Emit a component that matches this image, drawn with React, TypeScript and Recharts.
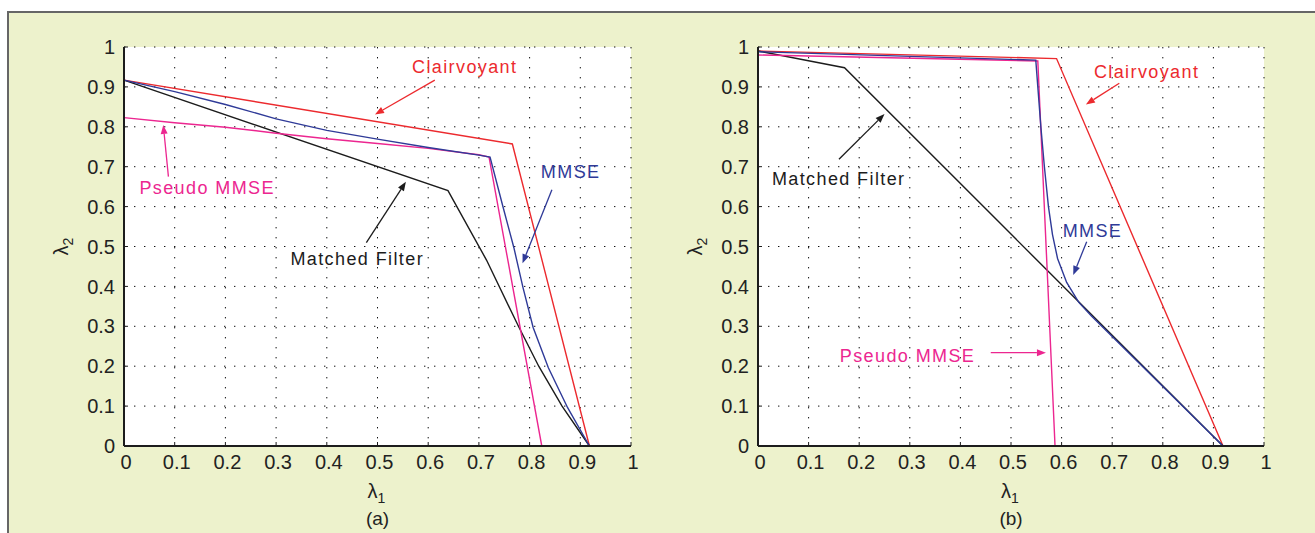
import { LineChart, Line, XAxis, YAxis, CartesianGrid, ReferenceLine, ReferenceDot } from 'recharts'

const TICKS = [0, 0.1, 0.2, 0.3, 0.4, 0.5, 0.6, 0.7, 0.8, 0.9, 1]

// panel (a)
const clairvoyantA = [
  { x: 0, y: 0.917 },
  { x: 0.766, y: 0.757 },
  { x: 0.918, y: 0 },
]
const mmseA = [
  { x: 0, y: 0.917 },
  { x: 0.1, y: 0.888 },
  { x: 0.2, y: 0.856 },
  { x: 0.3, y: 0.82 },
  { x: 0.4, y: 0.791 },
  { x: 0.5, y: 0.769 },
  { x: 0.6, y: 0.748 },
  { x: 0.7, y: 0.729 },
  { x: 0.722, y: 0.724 },
  { x: 0.748, y: 0.597 },
  { x: 0.769, y: 0.497 },
  { x: 0.787, y: 0.397 },
  { x: 0.807, y: 0.297 },
  { x: 0.837, y: 0.196 },
  { x: 0.875, y: 0.096 },
  { x: 0.918, y: 0 },
]
const pseudoA = [
  { x: 0, y: 0.823 },
  { x: 0.1, y: 0.81 },
  { x: 0.2, y: 0.799 },
  { x: 0.3, y: 0.784 },
  { x: 0.4, y: 0.77 },
  { x: 0.5, y: 0.758 },
  { x: 0.6, y: 0.746 },
  { x: 0.7, y: 0.73 },
  { x: 0.72, y: 0.724 },
  { x: 0.824, y: 0 },
]
const matchedA = [
  { x: 0, y: 0.917 },
  { x: 0.639, y: 0.64 },
  { x: 0.715, y: 0.466 },
  { x: 0.778, y: 0.3 },
  { x: 0.818, y: 0.2 },
  { x: 0.864, y: 0.1 },
  { x: 0.918, y: 0 },
]

// panel (b)
const clairvoyantB = [
  { x: 0, y: 0.99 },
  { x: 0.59, y: 0.971 },
  { x: 0.919, y: 0 },
]
const mmseB = [
  { x: 0, y: 0.988 },
  { x: 0.549, y: 0.967 },
  { x: 0.553, y: 0.9 },
  { x: 0.559, y: 0.8 },
  { x: 0.566, y: 0.7 },
  { x: 0.574, y: 0.6 },
  { x: 0.582, y: 0.53 },
  { x: 0.592, y: 0.47 },
  { x: 0.61, y: 0.41 },
  { x: 0.634, y: 0.36 },
  { x: 0.659, y: 0.326 },
  { x: 0.919, y: 0 },
]
const pseudoB = [
  { x: 0, y: 0.98 },
  { x: 0.553, y: 0.965 },
  { x: 0.587, y: 0 },
]
const matchedB = [
  { x: 0, y: 0.99 },
  { x: 0.171, y: 0.948 },
  { x: 0.919, y: 0 },
]

const RED = '#ec2a2e'
const BLUE = '#2f3a98'
const PINK = '#ec2690'
const BLACK = '#1c1c1c'
const FONT = '"Liberation Sans", Arial, Helvetica, sans-serif'

// text anchor (tx, ty) and arrow from -> to, in data units
const notesA = [
  { text: 'Clairvoyant', color: RED, tx: 0.672, ty: 0.934, from: [0.613, 0.917], to: [0.495, 0.831] },
  { text: 'Pseudo MMSE', color: PINK, tx: 0.164, ty: 0.632, from: [0.0876, 0.675], to: [0.0775, 0.8045] },
  { text: 'MMSE', color: BLUE, tx: 0.881, ty: 0.671, from: [0.844, 0.642], to: [0.786, 0.458] },
  { text: 'Matched Filter', color: BLACK, tx: 0.46, ty: 0.454, from: [0.478, 0.5095], to: [0.556, 0.662] },
]
const notesB = [
  { text: 'Clairvoyant', color: RED, tx: 0.768, ty: 0.9216, from: [0.714, 0.909], to: [0.648, 0.856] },
  { text: 'Matched Filter', color: BLACK, tx: 0.1595, ty: 0.654, from: [0.16, 0.7185], to: [0.25, 0.832] },
  { text: 'MMSE', color: BLUE, tx: 0.661, ty: 0.5246, from: [0.6496, 0.512], to: [0.623, 0.4286] },
  { text: 'Pseudo MMSE', color: PINK, tx: 0.2955, ty: 0.21, from: [0.46, 0.234], to: [0.569, 0.234] },
]

function Arrow(props: any) {
  const { x1, y1, x2, y2, color } = props
  const dx = x2 - x1
  const dy = y2 - y1
  const len = Math.hypot(dx, dy) || 1
  const ux = dx / len
  const uy = dy / len
  const hl = 9
  const hw = 3.5
  const bx = x2 - ux * hl
  const by = y2 - uy * hl
  const pts = `${x2},${y2} ${bx - uy * hw},${by + ux * hw} ${bx + uy * hw},${by - ux * hw}`
  return (
    <g>
      <line x1={x1} y1={y1} x2={bx} y2={by} stroke={color} strokeWidth={1.3} />
      <polygon points={pts} fill={color} />
    </g>
  )
}

const axisStroke = { stroke: BLACK, strokeWidth: 2 }
const tickStyle = { fontSize: 20, fill: '#222', fontFamily: FONT }

function Panel({ left, mLeft, mRight, series, notes, caption }: any) {
  return (
    <div style={{ position: 'absolute', left, top: 0 }}>
      <LineChart
        width={660}
        height={533}
        margin={{ top: 47, right: mRight, bottom: 57, left: mLeft }}
      >
        <CartesianGrid stroke="#111" strokeDasharray="1.4 8.6" fill="#fff" />
        <XAxis
          type="number"
          dataKey="x"
          domain={[0, 1]}
          ticks={TICKS}
          height={30}
          tickSize={-4}
          tickMargin={13}
          axisLine={axisStroke}
          tickLine={{ stroke: BLACK }}
          tick={{ ...tickStyle, dx: 2 }}
          label={{
            content: (p: any) => {
              const vb = p.viewBox
              const cx = vb.x + vb.width / 2
              return (
                <g fontFamily={FONT} fill="#222">
                  <text x={cx - 5} y={vb.y + 52} fontSize={20} textAnchor="middle">
                    λ
                  </text>
                  <text x={cx + 4} y={vb.y + 57} fontSize={14} textAnchor="middle">
                    1
                  </text>
                  <text x={cx} y={vb.y + 79} fontSize={19} textAnchor="middle">
                    {caption}
                  </text>
                </g>
              )
            },
          }}
        />
        <XAxis
          xAxisId="top"
          orientation="top"
          type="number"
          dataKey="x"
          domain={[0, 1]}
          ticks={TICKS}
          height={0}
          tickSize={-4}
          axisLine={axisStroke}
          tickLine={{ stroke: BLACK }}
          tick={false}
        />
        <YAxis
          type="number"
          domain={[0, 1]}
          ticks={TICKS}
          width={80}
          tickSize={-4}
          tickMargin={13}
          axisLine={axisStroke}
          tickLine={{ stroke: BLACK }}
          tick={tickStyle}
          label={{
            content: (p: any) => {
              const vb = p.viewBox
              const cx = vb.x + vb.width - 63
              const cy = vb.y + vb.height / 2
              return (
                <g transform={`rotate(-90, ${cx}, ${cy})`} fontFamily={FONT} fill="#222">
                  <text x={cx - 4} y={cy + 7} fontSize={20} textAnchor="middle">
                    λ
                  </text>
                  <text x={cx + 5} y={cy + 12} fontSize={14} textAnchor="middle">
                    2
                  </text>
                </g>
              )
            },
          }}
        />
        <YAxis
          yAxisId="right"
          orientation="right"
          type="number"
          domain={[0, 1]}
          ticks={TICKS}
          width={0}
          tickSize={-4}
          axisLine={axisStroke}
          tickLine={{ stroke: BLACK }}
          tick={false}
        />
        {series.map((s: any) => (
          <Line
            key={s.name}
            data={s.data}
            dataKey="y"
            name={s.name}
            type="linear"
            stroke={s.color}
            strokeWidth={1.4}
            dot={false}
            isAnimationActive={false}
          />
        ))}
        {notes.map((n: any) => (
          <ReferenceLine
            key={n.text + '-arrow'}
            segment={[
              { x: n.from[0], y: n.from[1] },
              { x: n.to[0], y: n.to[1] },
            ]}
            shape={(p: any) => <Arrow {...p} color={n.color} />}
          />
        ))}
        {notes.map((n: any) => (
          <ReferenceDot
            key={n.text}
            x={n.tx}
            y={n.ty}
            r={0}
            shape={(p: any) => (
              <text
                x={p.cx}
                y={p.cy}
                textAnchor="middle"
                fontFamily={FONT}
                fontSize={18}
                letterSpacing={1.4}
                fill={n.color}
              >
                {n.text}
              </text>
            )}
          />
        ))}
      </LineChart>
    </div>
  )
}

export default function App() {
  const seriesA = [
    { name: 'Clairvoyant', data: clairvoyantA, color: RED },
    { name: 'Matched Filter', data: matchedA, color: BLACK },
    { name: 'Pseudo MMSE', data: pseudoA, color: PINK },
    { name: 'MMSE', data: mmseA, color: BLUE },
  ]
  const seriesB = [
    { name: 'Clairvoyant', data: clairvoyantB, color: RED },
    { name: 'Matched Filter', data: matchedB, color: BLACK },
    { name: 'Pseudo MMSE', data: pseudoB, color: PINK },
    { name: 'MMSE', data: mmseB, color: BLUE },
  ]
  return (
    <div
      style={{
        position: 'absolute',
        left: 0,
        top: 0,
        width: 1315,
        height: 533,
        overflow: 'hidden',
        background: '#fff',
      }}
    >
      <div
        style={{
          position: 'absolute',
          left: 7,
          top: 11,
          width: 1320,
          height: 540,
          background: '#edf2cc',
          borderLeft: '2px solid #666',
          borderTop: '2px solid #666',
        }}
      />
      <Panel left={0} mLeft={44} mRight={29} series={seriesA} notes={notesA} caption="(a)" />
      <Panel left={640} mLeft={38} mRight={36} series={seriesB} notes={notesB} caption="(b)" />
    </div>
  )
}
